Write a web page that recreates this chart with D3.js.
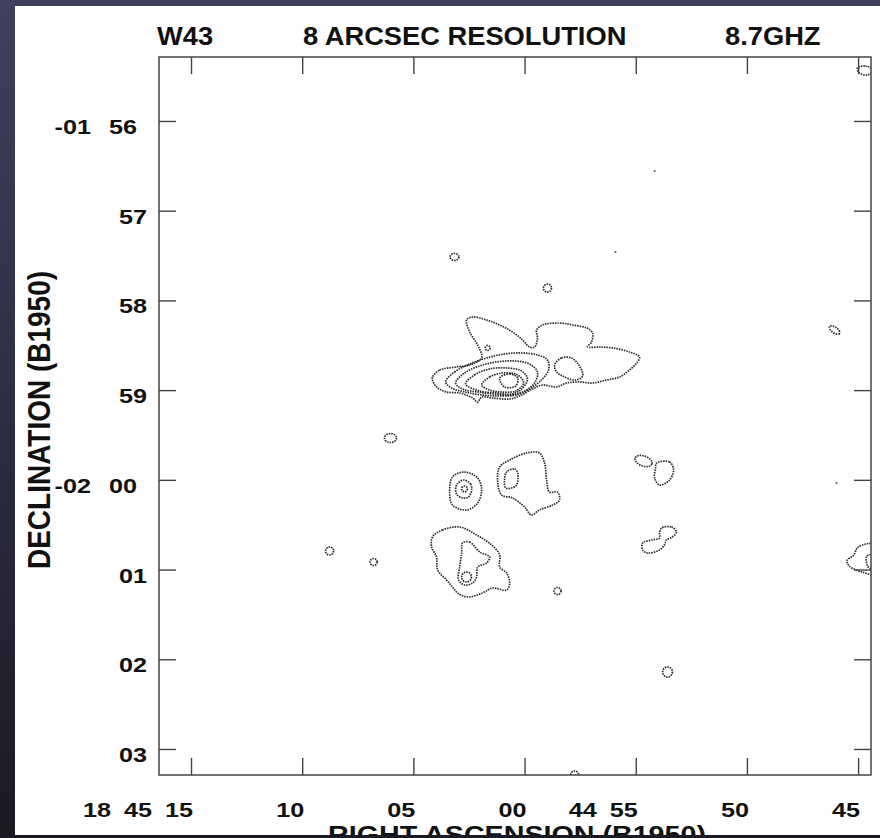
<!DOCTYPE html>
<html>
<head>
<meta charset="utf-8">
<script src="https://cdn.jsdelivr.net/npm/d3@7"></script>
<style>
  html, body { margin: 0; padding: 0; background: #2a2a40; }
  svg { display: block; }
  text { font-family: "Liberation Sans", Arial, Helvetica, sans-serif; fill: #111; }
</style>
</head>
<body>
<div id="chart"></div>
<script>
// ── Data ─────────────────────────────────────────────────────────────────────
// RA: seconds of time relative to 18h45m00s (positive = east / left)
// Dec: arcminutes south of -01 00 (56 = -01 56, 60 = -02 00)
const xTicks = [15, 10, 5, 0, -5, -10, -15]
const xTickLabels = ['18 45 15', '10', '05', '00', '44 55', '50', '45']
const yTicks = [56, 57, 58, 59, 60, 61, 62, 63]
const yTickLabels = ['-01 56', '57', '58', '59', '-02 00', '01', '02', '03']
const titleParts = ['W43', '8 ARCSEC RESOLUTION', '8.7GHZ']
const xTitle = 'RIGHT ASCENSION (B1950)'
const yTitle = 'DECLINATION (B1950)'

// main source, nested levels (outermost first)
const mainL1 = [[4.14,58.854],[3.82,58.776],[3.06,58.742],[2.47,58.720],[1.93,58.642],[2.11,58.497],[2.47,58.352],[2.61,58.218],[2.34,58.185],[1.71,58.218],[1.12,58.274],[0.54,58.352],[0.09,58.441],[-0.22,58.519],[-0.45,58.519],[-0.58,58.419],[-0.54,58.330],[-0.81,58.274],[-1.57,58.252],[-2.16,58.274],[-2.79,58.307],[-3.06,58.363],[-3.01,58.464],[-2.83,58.519],[-3.37,58.519],[-3.96,58.530],[-4.72,58.575],[-5.17,58.631],[-5.04,58.698],[-4.72,58.776],[-4.27,58.854],[-3.69,58.887],[-3.06,58.921],[-2.47,58.909],[-1.89,58.921],[-1.44,58.965],[-0.81,58.943],[-0.36,58.988],[0.22,59.065],[0.67,59.099],[1.44,59.088],[1.93,59.077],[2.11,59.133],[2.34,59.088],[2.92,59.032],[3.51,59.021],[3.96,58.965],[4.14,58.887]]
const mainL2 = [[3.55,58.909],[3.15,58.798],[2.47,58.709],[1.71,58.642],[0.90,58.597],[0.13,58.586],[-0.58,58.608],[-1.03,58.664],[-1.08,58.776],[-0.76,58.887],[-0.22,58.988],[0.36,59.054],[1.12,59.065],[1.93,59.054],[2.70,59.021],[3.28,58.976]]
const mainL3 = [[3.10,58.921],[2.70,58.809],[2.02,58.731],[1.26,58.686],[0.45,58.675],[-0.22,58.709],[-0.58,58.798],[-0.45,58.921],[0.00,59.010],[0.58,59.054],[1.35,59.043],[2.11,59.021],[2.79,58.988]]
const mainL4 = [[2.65,58.932],[2.25,58.831],[1.57,58.764],[0.81,58.753],[0.13,58.787],[-0.13,58.876],[0.13,58.988],[0.58,59.043],[1.26,59.032],[2.02,59.010]]
const mainL5 = [[1.93,58.943],[1.57,58.854],[0.99,58.809],[0.31,58.831],[0.04,58.921],[0.40,59.010],[1.03,59.021],[1.57,58.999]]
const mainL6 = [[1.12,58.865],[0.67,58.820],[0.31,58.865],[0.40,58.954],[0.90,58.965]]
const mainEast = [[-1.35,58.720],[-1.66,58.642],[-2.11,58.642],[-2.47,58.731],[-2.61,58.842],[-2.29,58.887],[-1.80,58.854],[-1.44,58.798]]

// compact source west of -02 00, and its neighbour
const srcA1 = [[2.70,59.913],[2.11,59.980],[1.93,60.113],[2.11,60.259],[2.61,60.336],[3.24,60.281],[3.37,60.136],[3.24,59.968]]
const srcA2 = [[2.74,60.002],[2.43,60.046],[2.38,60.113],[2.52,60.191],[2.79,60.202],[3.06,60.158],[3.06,60.058]]
const srcB1 = [[1.12,59.857],[0.67,59.779],[-0.09,59.701],[-0.67,59.701],[-0.90,59.812],[-0.99,60.002],[-1.12,60.136],[-1.48,60.136],[-1.57,60.225],[-1.26,60.281],[-0.67,60.336],[-0.31,60.392],[0.00,60.303],[0.54,60.202],[1.03,60.169],[1.21,60.024]]
const srcB2 = [[0.81,59.913],[0.45,59.879],[0.31,59.924],[0.36,60.058],[0.58,60.091],[0.85,60.091],[0.90,60.002]]

// southern source
const srcC1 = [[4.14,60.637],[3.69,60.559],[2.92,60.526],[2.16,60.615],[1.48,60.726],[1.12,60.838],[1.12,60.972],[0.81,61.038],[0.67,61.150],[0.81,61.228],[1.44,61.206],[1.89,61.261],[2.56,61.306],[3.01,61.261],[3.24,61.195],[3.51,61.116],[3.91,61.005],[3.96,60.860],[4.18,60.749]]
const srcC2 = [[2.79,60.704],[2.47,60.693],[2.02,60.804],[1.57,60.860],[1.71,60.927],[2.11,60.972],[2.16,61.083],[2.34,61.150],[2.70,61.172],[2.97,61.116],[2.92,60.972],[2.83,60.816]]

// eastern fragments
const srcD = [[-5.94,59.812],[-6.52,59.801],[-6.70,59.890],[-6.52,60.002],[-6.07,60.058],[-5.85,59.980],[-5.89,59.868]]
const srcE = [[-6.16,60.537],[-6.61,60.526],[-6.83,60.581],[-6.65,60.637],[-6.38,60.671],[-6.29,60.726],[-6.07,60.782],[-5.53,60.816],[-5.31,60.782],[-5.31,60.704],[-5.71,60.671],[-6.07,60.648],[-6.07,60.593]]
const srcF = [[-15.00,60.750],[-15.80,60.720],[-15.90,61.050],[-15.20,61.030],[-14.60,60.960],[-14.50,60.900],[-14.80,60.840]]
const srcF2 = [[-15.40,60.850],[-15.80,60.840],[-15.80,61.000],[-15.45,60.970]]
const srcG = [[-14.97,55.409],[-15.33,55.387],[-15.69,55.431],[-15.42,55.487],[-15.06,55.465]]

const contours = [mainL1, mainL2, mainL3, mainL4, mainL5, mainL6, mainEast, srcA1, srcA2, srcB1, srcB2, srcC1, srcC2, srcD, srcE, srcF, srcF2, srcG]

// small unresolved blobs: [ra, dec, halfwidth RA (s), halfheight Dec (arcmin), tilt deg]
const blobs = [
  [3.15, 57.516, 0.20, 0.039, 0],
  [-1.03, 57.862, 0.18, 0.045, 0],
  [6.03, 59.534, 0.27, 0.050, 0],
  [8.77, 60.793, 0.18, 0.045, 0],
  [6.79, 60.916, 0.16, 0.039, 0],
  [-1.48, 61.239, 0.16, 0.039, 0],
  [-6.43, 62.142, 0.22, 0.056, 0],
  [-13.94, 58.330, 0.27, 0.033, 35],
  [1.66, 58.530, 0.11, 0.028, 0],
  [2.70, 60.102, 0.13, 0.033, 0],
  [2.61, 61.083, 0.22, 0.056, 0],
  [-5.35, 59.790, 0.40, 0.056, 20],
  [-2.25, 63.290, 0.18, 0.045, 0]
]
const specks = [[-5.85, 56.557], [-4.09, 57.460], [-14.03, 60.035]]

// ── Layout ───────────────────────────────────────────────────────────────────
const W = 880, H = 838
const panel = { x: 15, y: 6, w: W - 15, h: 829 }
const frame = { left: 159, right: 871, top: 57, bottom: 775 }
const tickLen = 17
const tickFont = 21, sx = 1.2
const ink = '#444'

const x = d3.scaleLinear().domain([16.44, -15.58]).range([frame.left, frame.right])
const y = d3.scaleLinear().domain([55.287, 63.29]).range([frame.top, frame.bottom])

const svg = d3.select('#chart').append('svg').attr('width', W).attr('height', H)
const defs = svg.append('defs')
const grad = defs.append('linearGradient').attr('id', 'bg').attr('x1', 0).attr('y1', 0).attr('x2', 0).attr('y2', 1)
grad.append('stop').attr('offset', '0%').attr('stop-color', '#40405f')
grad.append('stop').attr('offset', '100%').attr('stop-color', '#1a1a25')
defs.append('clipPath').attr('id', 'panel-clip').append('rect')
  .attr('x', panel.x).attr('y', panel.y).attr('width', panel.w).attr('height', panel.h)
defs.append('clipPath').attr('id', 'frame-clip').append('rect')
  .attr('x', frame.left).attr('y', frame.top).attr('width', frame.right - frame.left).attr('height', frame.bottom - frame.top)

svg.append('rect').attr('width', W).attr('height', H).attr('fill', 'url(#bg)')
svg.append('rect').attr('x', panel.x).attr('y', panel.y).attr('width', panel.w).attr('height', panel.h).attr('fill', '#fff')

const root = svg.append('g').attr('clip-path', 'url(#panel-clip)')

// ── Contours ─────────────────────────────────────────────────────────────────
const plot = root.append('g').attr('clip-path', 'url(#frame-clip)')
const line = d3.line().x(d => x(d[0])).y(d => y(d[1])).curve(d3.curveCatmullRomClosed.alpha(0.5))
const dotted = sel => sel.attr('fill', 'none').attr('stroke', '#2a2a2a').attr('stroke-width', 1.7).attr('stroke-dasharray', '1.5 1')

plot.selectAll('path.ct').data(contours).join('path').attr('class', 'ct').attr('d', line).call(dotted)
plot.selectAll('ellipse').data(blobs).join('ellipse')
  .attr('transform', d => `translate(${x(d[0])},${y(d[1])}) rotate(${d[4]})`)
  .attr('rx', d => Math.abs(x(d[0] + d[2]) - x(d[0])))
  .attr('ry', d => Math.abs(y(d[1] + d[3]) - y(d[1])))
  .call(dotted)
plot.selectAll('circle').data(specks).join('circle')
  .attr('cx', d => x(d[0])).attr('cy', d => y(d[1])).attr('r', 1).attr('fill', '#555')

// ── Frame & ticks ────────────────────────────────────────────────────────────
const tickStyle = g => {
  g.select('.domain').remove()
  g.selectAll('.tick line').attr('stroke', ink).attr('stroke-width', 1.4)
}
root.append('g').attr('transform', `translate(0,${frame.bottom})`)
  .call(d3.axisBottom(x).tickValues(xTicks).tickSize(-tickLen).tickFormat('')).call(tickStyle)
root.append('g').attr('transform', `translate(0,${frame.top})`)
  .call(d3.axisTop(x).tickValues(xTicks).tickSize(-tickLen).tickFormat('')).call(tickStyle)
root.append('g').attr('transform', `translate(${frame.left},0)`)
  .call(d3.axisLeft(y).tickValues(yTicks).tickSize(-tickLen).tickFormat('')).call(tickStyle)
root.append('g').attr('transform', `translate(${frame.right},0)`)
  .call(d3.axisRight(y).tickValues(yTicks).tickSize(-tickLen).tickFormat('')).call(tickStyle)

root.append('rect')
  .attr('x', frame.left).attr('y', frame.top)
  .attr('width', frame.right - frame.left).attr('height', frame.bottom - frame.top)
  .attr('fill', 'none').attr('stroke', ink).attr('stroke-width', 1.5)

// ── Tick labels (sexagesimal parts laid out right to left) ───────────────────
const labels = root.append('g')
function drawTokens(label, rightX, baseY, gap) {
  const tokens = label.split(' ')
  let edge = rightX
  for (let i = tokens.length - 1; i >= 0; i--) {
    const t = labels.append('text')
      .attr('text-anchor', 'end')
      .attr('transform', `translate(${edge},${baseY}) scale(${sx},1)`)
      .style('font-size', tickFont + 'px').style('font-weight', 'bold')
      .text(tokens[i])
    edge -= t.node().getComputedTextLength() * sx + gap
  }
}
xTicks.forEach((v, i) => drawTokens(xTickLabels[i], x(v) + 2, 817, 13))
yTicks.forEach((v, i) => {
  const compound = yTickLabels[i].includes(' ')
  drawTokens(yTickLabels[i], compound ? 137 : 147, y(v) + 13, 18)
})

// ── Titles ───────────────────────────────────────────────────────────────────
const titleX = [157, 303, 725]
titleParts.forEach((t, i) => {
  root.append('text')
    .attr('transform', `translate(${titleX[i]},45) scale(1.05,1)`)
    .style('font-size', '26px').style('font-weight', 'bold')
    .text(t)
})
root.append('text')
  .attr('text-anchor', 'middle')
  .attr('transform', `translate(517,843) scale(1.22,1)`)
  .style('font-size', '23.5px').style('font-weight', 'bold')
  .text(xTitle)
root.append('text')
  .attr('text-anchor', 'middle')
  .attr('transform', `translate(50,420) scale(1.1,1) rotate(-90)`)
  .style('font-size', '28px').style('font-weight', 'bold')
  .text(yTitle)
</script>
</body>
</html>
